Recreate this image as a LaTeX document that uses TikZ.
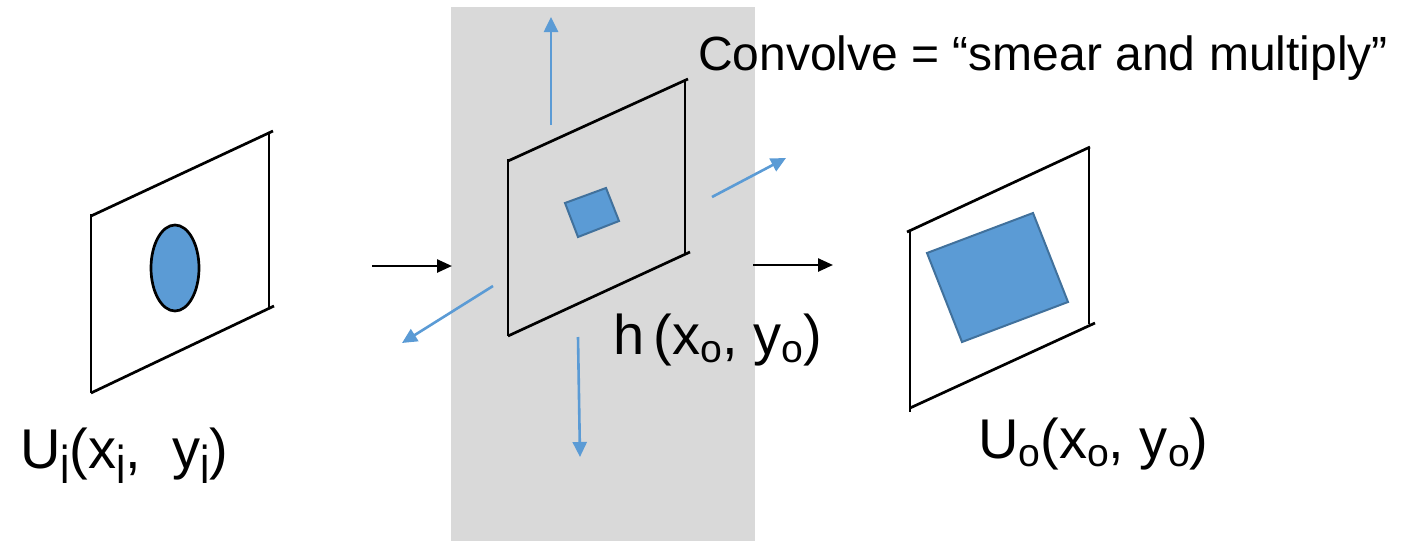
\documentclass[tikz,border=0pt]{standalone}
\usepackage{fontspec}
\setmainfont{Liberation Sans}
\usetikzlibrary{arrows.meta}
\definecolor{panelgray}{HTML}{D9D9D9}
\definecolor{spotblue}{HTML}{5B9BD5}
\definecolor{spotedge}{HTML}{41719C}
\newcommand\lo[1]{\raisebox{-0.16em}{\scalebox{0.7}{#1}}}
\newcommand\loi{\raisebox{-0.27em}{\scalebox{0.75}[0.95]{i}}}
\tikzset{
  frameline/.style={black, line width=2.7pt, line cap=butt},
  spot/.style={fill=spotblue, draw=spotedge, line width=2pt, line join=miter},
  spread/.style={spotblue, line width=2.6pt, -{Triangle[length=15pt,width=14pt]}},
  flow/.style={black, line width=2.5pt, -{Triangle[length=15pt,width=13pt]}},
  lbl/.style={inner sep=0pt, anchor=base west, text=black}
}
\begin{document}
\begin{tikzpicture}[x=1pt,y=-1pt]
\useasboundingbox (0,0) rectangle (1410,541);
% gray panel
\fill[panelgray] (451,7) rectangle (755,541);
% left frame
\coordinate (aTL) at (91,216);
\coordinate (aTR) at (269,133);
\coordinate (aBR) at (269,309);
\coordinate (aBL) at (91,393);
\draw[frameline] (aTL) -- (273,131);
\draw[frameline] (aTR) -- (aBR);
\draw[frameline] (aBL) -- (274,306);
\draw[frameline] (91,214) -- (aBL);
\draw[spot, draw=black, line width=2.7pt] (175,268) ellipse [x radius=24, y radius=43];
% middle frame
\coordinate (bTL) at (508,161);
\coordinate (bTR) at (685,80);
\coordinate (bBR) at (685,254);
\coordinate (bBL) at (508,336);
\draw[frameline] (bTL) -- (688,79);
\draw[frameline] (bTR) -- (bBR);
\draw[frameline] (bBL) -- (690,252);
\draw[frameline] (508,159) -- (bBL);
\draw[spot] (565,203) -- (606,188) -- (619,221) -- (578,237) -- cycle;
% right frame
\coordinate (cTL) at (910,231);
\coordinate (cTR) at (1089,148);
\coordinate (cBR) at (1089,324);
\coordinate (cBL) at (910,408);
\draw[frameline] (907,232) -- (1090,147);
\draw[frameline] (cTR) -- (cBR);
\draw[frameline] (cBL) -- (1095,323);
\draw[frameline] (910,230) -- (910,412);
\draw[spot] (927,253) -- (1033,213) -- (1068,302) -- (962,342) -- cycle;
% spreading arrows
\coordinate (u0) at (551,125); \coordinate (u1) at (551,17);
\coordinate (r0) at (712,197); \coordinate (r1) at (786,158);
\coordinate (l0) at (493,286); \coordinate (l1) at (402,343);
\coordinate (d0) at (578,337); \coordinate (d1) at (580,457);
\draw[spread] (u0) -- (u1);
\draw[spread] (r0) -- (r1);
\draw[spread] (l0) -- (l1);
\draw[spread] (d0) -- (d1);
% flow arrows
\coordinate (in0) at (372,266); \coordinate (in1) at (452,266);
\coordinate (out0) at (753,265); \coordinate (out1) at (833,265);
\draw[flow] (in0) -- (in1);
\draw[flow] (out0) -- (out1);
% labels
\node[lbl, font=\fontsize{48}{52}\selectfont] (conv) at (698,70) {Convolve = “smear and multiply”};
\node[lbl, font=\fontsize{56}{60}\selectfont] (hlbl) at (613,354) {h\,(x\lo{o}, y\lo{o})};
\node[lbl, font=\fontsize{56}{60}\selectfont] (uilbl) at (20,468) {U\loi(x\loi,\ \ y\loi)};
\node[lbl, font=\fontsize{56}{60}\selectfont] (uolbl) at (978,458) {U\lo{o}(x\lo{o}, y\lo{o})};
\end{tikzpicture}
\end{document}
